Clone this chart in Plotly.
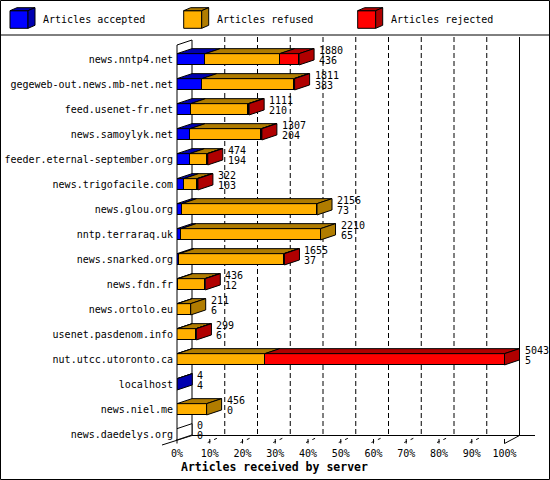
import plotly.graph_objects as go

# servers, top to bottom
servers = ["news.nntp4.net", "gegeweb-out.news.mb-net.net", "feed.usenet-fr.net",
           "news.samoylyk.net", "feeder.eternal-september.org", "news.trigofacile.com",
           "news.glou.org", "nntp.terraraq.uk", "news.snarked.org", "news.fdn.fr",
           "news.ortolo.eu", "usenet.pasdenom.info", "nut.utcc.utoronto.ca",
           "localhost", "news.niel.me", "news.daedelys.org"]
total = [1880, 1811, 1111, 1307, 474, 322, 2156, 2210, 1655, 436, 211, 299, 5043, 4, 456, 0]
accepted = [436, 383, 210, 204, 194, 103, 73, 65, 37, 12, 6, 6, 5, 4, 0, 0]
refused = [1146, 1416, 887, 1097, 268, 204, 2083, 2145, 1608, 416, 205, 288, 1348, 0, 456, 0]
rejected = [298, 12, 14, 6, 12, 15, 0, 0, 10, 8, 0, 5, 3690, 0, 0, 0]

series_names = ["Articles accepted", "Articles refused", "Articles rejected"]
front_colors = ["#0000FF", "#FFB000", "#FF0000"]
dark_colors = ["#0000B0", "#B07C00", "#B00000"]
pct_ticks = [0, 10, 20, 30, 40, 50, 60, 70, 80, 90, 100]

FONT = "DejaVu Sans Mono"

# geometry in pixels
W, H = 550, 480
L, R, T, B = 177, 535, 37, 440
ROW = 25          # px between rows
FIRST = 59.3      # px centre of first bar
FULL = 327.5      # px length of the longest bar
DX, DY = 15, 5    # 3d depth of bars
BAR_H = 11.3

vmax = max(total)
ux = vmax / FULL
dxd = DX * ux
dyd = DY / ROW
hh = BAR_H / ROW / 2
n = len(servers)
rows = list(range(n))


def px(x):
    return (x - L) / (R - L)


def py(y):
    return (B - y) / (B - T)


fig = go.Figure()
for k, vals in enumerate([accepted, refused, rejected]):
    fig.add_trace(go.Bar(
        y=rows, x=[v if v > 0 else None for v in vals], orientation="h",
        width=2 * hh, name=series_names[k], showlegend=False,
        marker=dict(color=front_colors[k], line=dict(color="black", width=1))))

shapes = []
black = dict(color="black", width=1)

# walls, floor and grid (pixel based decoration)
def pline(x0, y0, x1, y1, dash=None, layer="below"):
    ln = dict(color="black", width=1)
    if dash:
        ln["dash"] = dash
    shapes.append(dict(type="line", xref="paper", yref="paper", x0=px(x0), y0=py(y0),
                       x1=px(x1), y1=py(y1), line=ln, layer=layer))

pline(L, 45, L, B, layer="above")
pline(L, 45, L + DX, 40)
pline(L + DX, 40, L + DX, 435.5)
pline(162, 445, L + DX, 435.5)
pline(L + DX, 435.5, R, 435.5)
pline(L + FULL, 443.5, L + FULL + DX, 435.5)
pline(L + FULL + DX, 37, L + FULL + DX, 435.5)
for p in pct_ticks:
    xf = L + FULL * p / 100
    pline(xf, 439, xf, 443.5)
    if 0 < p < 100:
        pline(xf + DX, 37, xf + DX, 435.5, dash="5px,3px")
        pline(xf - 2, 442.5, xf + 10, 437, dash="3px,4px")

# 3d faces of bars
for i in rows:
    segs = [accepted[i], refused[i], rejected[i]]
    base = 0
    last = None
    for k, v in enumerate(segs):
        if v <= 0:
            continue
        x0, x1 = base, base + v
        shapes.append(dict(type="path", xref="x", yref="y", layer="above",
                           path=f"M {x0},{i - hh} L {x1},{i - hh} L {x1 + dxd},{i - hh - dyd} "
                                f"L {x0 + dxd},{i - hh - dyd} Z",
                           fillcolor=dark_colors[k], line=black))
        base = x1
        last = k
    fill = dark_colors[last] if last is not None else "white"
    shapes.append(dict(type="path", xref="x", yref="y", layer="above",
                       path=f"M {base},{i - hh} L {base},{i + hh} L {base + dxd},{i + hh - dyd} "
                            f"L {base + dxd},{i - hh - dyd} Z",
                       fillcolor=fill, line=black))

# frame and legend
shapes.append(dict(type="rect", xref="paper", yref="paper", x0=px(0.5), y0=py(0.5),
                   x1=px(549.5), y1=py(479.5), line=black, layer="above"))
pline(0, 35, W, 35, layer="above")

annotations = []
legend_x = [10, 183.7, 357.7]
for k, lx in enumerate(legend_x):
    def pp(pts):
        return "M " + " L ".join(f"{px(a)},{py(b)}" for a, b in pts) + " Z"
    shapes.append(dict(type="path", xref="paper", yref="paper", layer="above",
                       path=pp([(lx, 10.7), (lx + 18, 10.7), (lx + 18, 28.3), (lx, 28.3)]),
                       fillcolor=front_colors[k], line=black))
    shapes.append(dict(type="path", xref="paper", yref="paper", layer="above",
                       path=pp([(lx, 10.7), (lx + 18, 10.7), (lx + 25, 7.7), (lx + 7, 7.7)]),
                       fillcolor=dark_colors[k], line=black))
    shapes.append(dict(type="path", xref="paper", yref="paper", layer="above",
                       path=pp([(lx + 18, 10.7), (lx + 18, 28.3), (lx + 25, 25.3), (lx + 25, 7.7)]),
                       fillcolor=dark_colors[k], line=black))
    annotations.append(dict(xref="paper", yref="paper", x=px(lx + 31), y=py(20),
                            xanchor="left", yanchor="middle", showarrow=False,
                            text=series_names[k], font=dict(family=FONT, size=10, color="black")))

# value labels
for i in rows:
    for txt, shift in [(total[i], 9), (accepted[i], -1.5)]:
        annotations.append(dict(x=total[i] + dxd, y=i, xref="x", yref="y", xanchor="left",
                                yanchor="middle", xshift=3, yshift=shift, showarrow=False,
                                text=str(txt), font=dict(family=FONT, size=10, color="black")))

annotations.append(dict(xref="paper", yref="paper", x=px(179), y=py(467), xanchor="left",
                        yanchor="middle", showarrow=False, text="<b>Articles received by server</b>",
                        font=dict(family=FONT, size=11.5, color="black")))

fig.update_layout(
    width=W, height=H, barmode="stack", bargap=0,
    margin=dict(l=L, r=W - R, t=T, b=H - B, pad=0, autoexpand=False),
    paper_bgcolor="white", plot_bgcolor="white",
    shapes=shapes, annotations=annotations,
    xaxis=dict(range=[0, (R - L) * ux], tickvals=[vmax * p / 100 for p in pct_ticks],
               ticktext=[f"{p}%" for p in pct_ticks], showgrid=False, zeroline=False,
               showline=False, ticks="", ticklabelstandoff=6, automargin=False,
               tickfont=dict(family=FONT, size=10, color="black")),
    yaxis=dict(range=[(B - FIRST) / ROW, (T - FIRST) / ROW], tickvals=rows, ticktext=servers,
               showgrid=False, zeroline=False, showline=False, ticks="", ticklabelstandoff=3,
               automargin=False, tickfont=dict(family=FONT, size=10, color="black")),
    font=dict(family=FONT, size=10, color="black"),
)

# drop the default page margin so the figure sits at the window's corner
fig.write_html("out.html", config={"displayModeBar": False},
               post_script="document.body.style.margin='0';")
